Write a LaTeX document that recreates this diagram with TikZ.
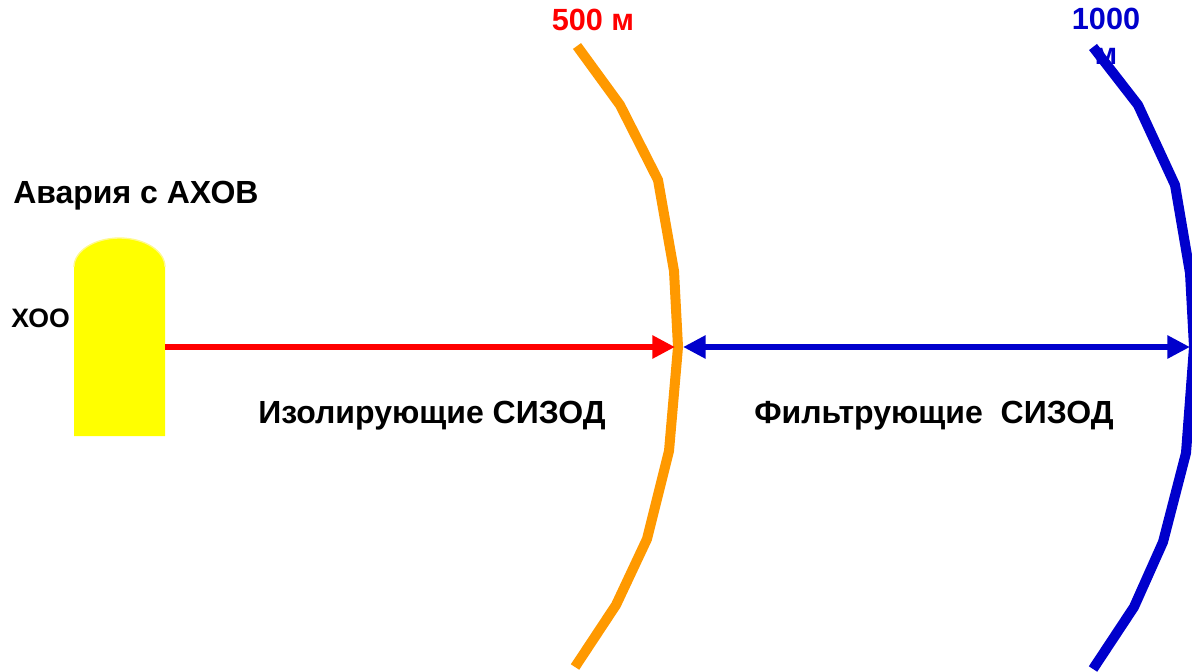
\documentclass[tikz,border=0pt]{standalone}
\usepackage{fontspec}
\setmainfont{Liberation Sans}
\usetikzlibrary{
  arrows.meta,
  positioning
}
\tikzset{>=stealth}
\definecolor{tankyellow}{RGB}{255,255,0}
\definecolor{zoneorange}{RGB}{255,153,0}
\definecolor{zoneblue}{RGB}{0,0,204}

\begin{document}
\begin{tikzpicture}[x=0.75pt, y=-0.75pt,
    zoneline/.style={line width=7.5pt},
    arrowhead/.tip={Triangle[length=17pt, width=16.5pt]},
    lbl/.style={inner sep=0pt, font=\bfseries\fontsize{24}{28}\selectfont}]
  \useasboundingbox (0,0) rectangle (1192,671);
  % the tank
  \fill[tankyellow] (74,436) -- (74,267)
    arc[start angle=180, end angle=360, x radius=45.5, y radius=29]
    -- (165,436) -- cycle;
  \draw[yellow!45!white, line width=1pt] (74,267)
    arc[start angle=180, end angle=360, x radius=45.5, y radius=29];
  \coordinate (tank) at (165,347);
  \node[lbl, anchor=base west] (accident) at (13,203) {Авария с АХОВ};
  \node[lbl, anchor=base west, font=\bfseries\fontsize{20}{24}\selectfont] (hoo) at (11,327) {ХОО};
  % labels of the zones
  \node[lbl, anchor=base, text=red, font=\bfseries\fontsize{23}{27}\selectfont] (d500) at (593,30) {500 м};
  \node[lbl, anchor=north, text=zoneblue, align=center, font=\bfseries\fontsize{23}{26}\selectfont] (d1000) at (1106,8) {1000\\м};
  \node[lbl, anchor=base] (isol) at (432,423) {Изолирующие СИЗОД};
  \node[lbl, anchor=base] (filt) at (934,423) {Фильтрующие\ \ СИЗОД};
  % zone borders
  \draw[zoneline, zoneorange] (577,46) -- (620,105) -- (658,180) -- (674,271)
    -- (678,347) -- (669,451) -- (647,539) -- (616,605) -- (575,667);
  \draw[zoneline, zoneblue] (1093,47) -- (1138,105) -- (1175,185) -- (1190,273)
    -- (1194,347) -- (1186,453) -- (1163,542) -- (1134,607) -- (1093,669);
  \coordinate (inner) at (675,347);
  \coordinate (outer) at (683,347);
  \coordinate (edge) at (1190,347);
  % distances
  \draw[red, line width=4.5pt, -{arrowhead}] (tank) -- (inner);
  \draw[zoneblue, line width=4.5pt, {arrowhead}-{arrowhead}] (outer) -- (edge);
\end{tikzpicture}
\end{document}
